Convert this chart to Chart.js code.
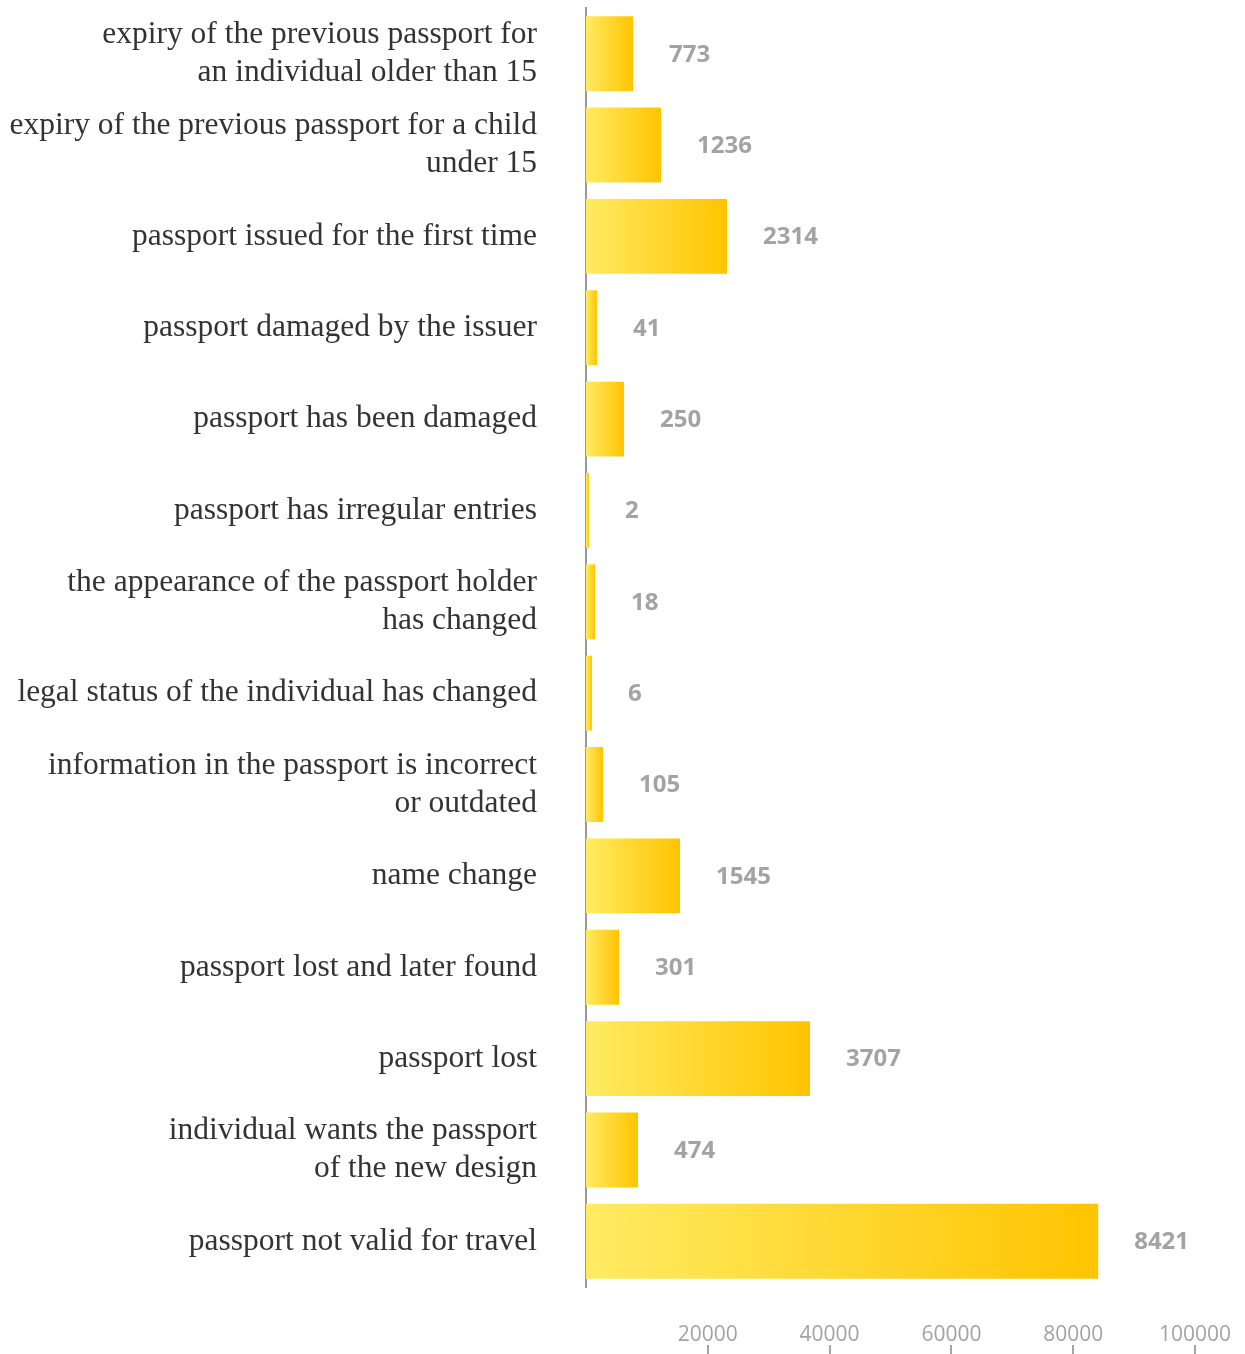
<!DOCTYPE html>
<html>
<head>
<meta charset="utf-8">
<script src="https://cdn.jsdelivr.net/npm/chart.js@4.4.0/dist/chart.umd.min.js"></script>
<style>
    html, body { margin: 0; padding: 0; background: #fff; }
    #wrap { width: 1245px; height: 1354px; }
</style>
</head>
<body>
<div id="wrap"><canvas id="chart1" width="1245" height="1354"></canvas></div>
<script>
var categories = [
    ["expiry of the previous passport for", "an individual older than 15"],
    ["expiry of the previous passport for a child", "under 15"],
    "passport issued for the first time",
    "passport damaged by the issuer",
    "passport has been damaged",
    "passport has irregular entries",
    ["the appearance of the passport holder", "has changed"],
    "legal status of the individual has changed",
    ["information in the passport is incorrect", "or outdated"],
    "name change",
    "passport lost and later found",
    "passport lost",
    ["individual wants the passport", "of the new design"],
    "passport not valid for travel"
]
// printed counts next to each bar
var counts = [773, 1236, 2314, 41, 250, 2, 18, 6, 105, 1545, 301, 3707, 474, 8421]
// bar lengths as read against the bottom axis
var barValues = [7720, 12320, 23150, 1800, 6240, 490, 1480, 990, 2790, 15440, 5420, 36780, 8540, 84100]
var xTicks = [20000, 40000, 60000, 80000, 100000]

function barFill(context) {
    var chart = context.chart
    if (!chart.chartArea) return '#ffd530'
    var xs = chart.scales.x
    var x0 = xs.getPixelForValue(0)
    var x1 = xs.getPixelForValue(context.raw)
    if (x1 - x0 < 2) return '#ffd000'
    var g = chart.ctx.createLinearGradient(x0, 0, x1, 0)
    g.addColorStop(0, '#ffeb62')
    g.addColorStop(1, '#ffc400')
    return g
}

var valueLabels = {
    id: 'valueLabels',
    afterDatasetsDraw: function (chart) {
        var c = chart.ctx
        var meta = chart.getDatasetMeta(0)
        c.save()
        c.font = 'bold 24px "Open Sans"'
        c.fillStyle = '#a3a3a3'
        c.textAlign = 'left'
        c.textBaseline = 'middle'
        meta.data.forEach(function (bar, i) {
            c.fillText(String(counts[i]), bar.x + 36, bar.y + 1)
        })
        c.restore()
    }
}

var tickMarks = {
    id: 'tickMarks',
    afterDraw: function (chart) {
        var c = chart.ctx
        var xs = chart.scales.x
        c.save()
        c.strokeStyle = '#a3a3a3'
        c.lineWidth = 2
        xTicks.forEach(function (t) {
            var px = Math.round(xs.getPixelForValue(t))
            c.beginPath()
            c.moveTo(px, 1345)
            c.lineTo(px, 1354)
            c.stroke()
        })
        c.restore()
    }
}

var ctx1 = document.getElementById('chart1')
const myChart = new Chart(ctx1, {
    type: 'bar',
    data: {
        labels: categories,
        datasets: [{
            data: barValues,
            backgroundColor: barFill,
            borderWidth: 0,
            barPercentage: 0.82,
            categoryPercentage: 1
        }]
    },
    plugins: [valueLabels, tickMarks],
    options: {
        indexAxis: 'y',
        responsive: false,
        animation: false,
        layout: { padding: { top: 8, right: 50, left: 0, bottom: 0 } },
        scales: {
            x: {
                min: 0,
                max: 100000,
                afterFit: function (scale) {
                    scale.height = 67
                    scale.paddingLeft = 0
                    scale.paddingRight = 0
                },
                afterBuildTicks: function (scale) {
                    scale.ticks = xTicks.map(function (v) { return { value: v } })
                },
                grid: { display: false, drawTicks: false },
                border: { display: false },
                ticks: {
                    padding: 35,
                    color: '#a3a3a3',
                    font: { family: 'Open Sans', size: 21 },
                    maxRotation: 0,
                    autoSkip: false,
                    callback: function (v) { return String(v) }
                }
            },
            y: {
                afterFit: function (scale) {
                    scale.width = 586
                    scale.paddingTop = 0
                    scale.paddingBottom = 0
                },
                grid: { display: false, drawTicks: false },
                border: { display: true, color: '#999999', width: 2 },
                ticks: {
                    padding: 49,
                    color: '#333333',
                    font: { family: 'Liberation Serif', size: 31.5, lineHeight: '38px' },
                    autoSkip: false
                }
            }
        },
        plugins: {
            legend: { display: false },
            tooltip: { enabled: false }
        }
    }
})
</script>
</body>
</html>
